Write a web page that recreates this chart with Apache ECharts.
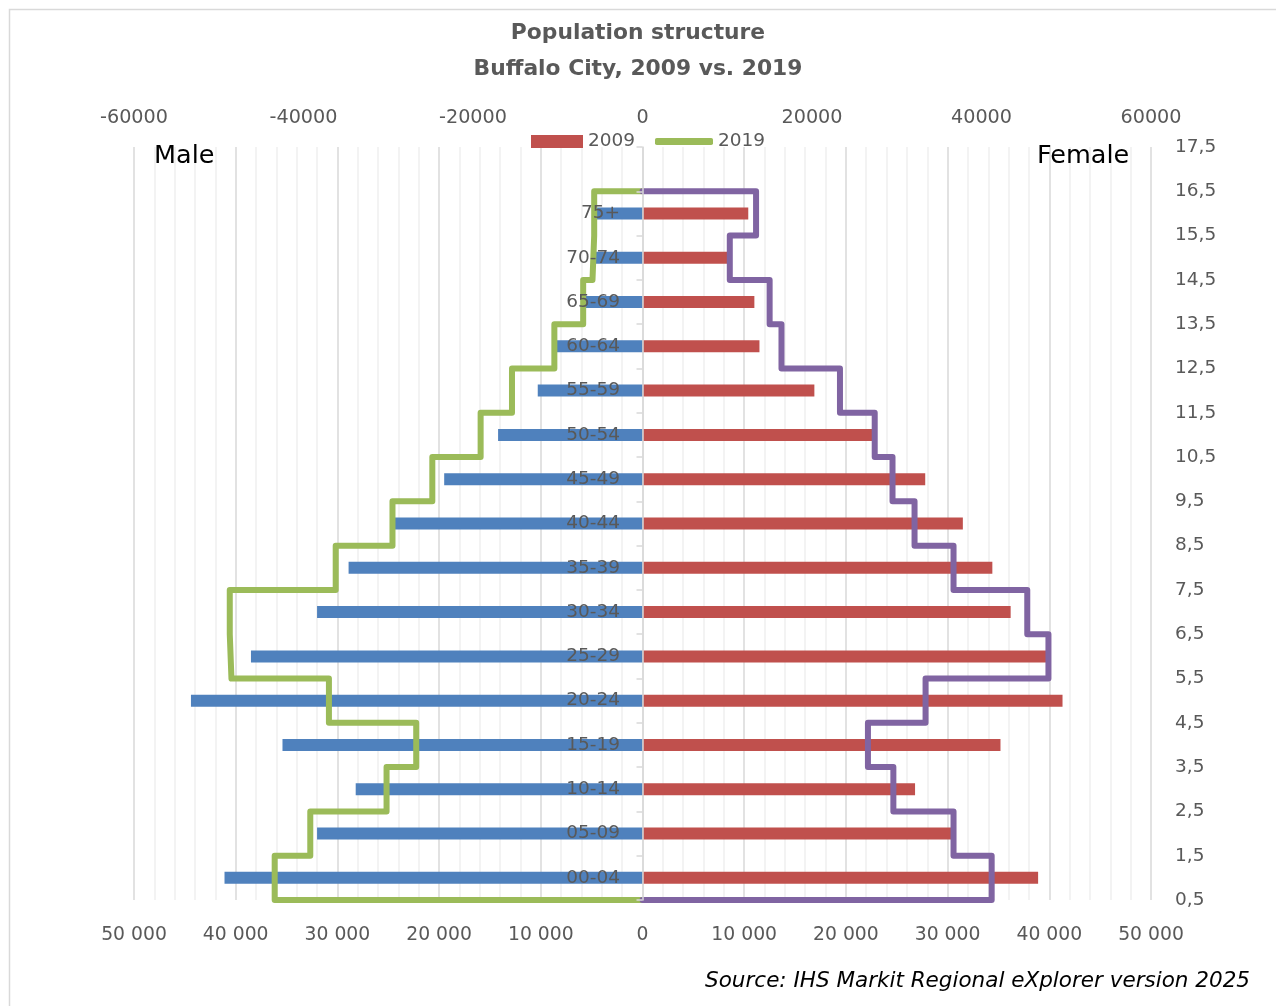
<!DOCTYPE html>
<html>
<head>
<meta charset="utf-8">
<script src="https://cdn.jsdelivr.net/npm/echarts@6/dist/echarts.min.js"></script>
<style>
html,body{margin:0;padding:0;background:#fff;}
#chart{width:1276px;height:1006px;}
</style>
</head>
<body>
<div id="chart"></div>
<script>
// Age groups (bottom to top)
var categories = ['00-04','05-09','10-14','15-19','20-24','25-29','30-34','35-39','40-44','45-49','50-54','55-59','60-64','65-69','70-74','75+'];
// 2009 (bars, bottom axis)
var male2009   = [41100, 32000, 28200, 35400, 44400, 38500, 32000, 28900, 24500, 19500, 14200, 10300, 8500, 5800, 4800, 4700];
var female2009 = [38900, 30400, 26800, 35200, 41300, 39900, 36200, 34400, 31500, 27800, 22600, 16900, 11500, 11000, 8400, 10400];
// 2019 (step lines, top axis)
var male2019   = [43400, 39200, 30200, 26700, 37000, 48500, 48700, 36200, 29500, 24800, 19100, 15400, 10400, 7000, 5900, 5700];
var female2019 = [41200, 36700, 29600, 26600, 33400, 47900, 45400, 36700, 32100, 29500, 27400, 23300, 16400, 15000, 10300, 13400];
// Axis tick settings
var bottomTicks = {min: -50000, max: 50000, interval: 10000};
var topTicks = {min: -60000, max: 60000, interval: 20000};
var rightTicks = {min: 0.5, max: 17.5, interval: 1};

var FONT = 'DejaVu Sans';
var GREY = '#595959';

function stepPoints(vals, sign) {
  var n = vals.length;
  var pts = [[0, n + 0.5]];
  for (var k = n - 1; k >= 0; k--) {
    pts.push([sign * vals[k], k + 1.5]);
    pts.push([sign * vals[k], k + 0.5]);
  }
  pts.push([0, 0.5]);
  return pts;
}

var catAxisData = categories.concat(['']);

var chart = echarts.init(document.getElementById('chart'));
var option = {
  backgroundColor: '#fff',
  animation: false,
  textStyle: {fontFamily: FONT},
  title: {
    text: 'Population structure\nBuffalo City, 2009 vs. 2019',
    left: 'center',
    top: 10,
    textStyle: {fontFamily: FONT, fontWeight: 'bold', fontSize: 21.8, lineHeight: 36, color: GREY}
  },
  legend: [
    {data: ['2009'], left: 526, top: 127, icon: 'rect', itemWidth: 52, itemHeight: 13,
     textStyle: {fontFamily: FONT, fontSize: 18.5, color: GREY}},
    {data: ['2019'], left: 650, top: 127, icon: 'roundRect', itemWidth: 58, itemHeight: 7,
     textStyle: {fontFamily: FONT, fontSize: 18.5, color: GREY}}
  ],
  grid: {left: 134, top: 147, width: 1017, height: 753, containLabel: false},
  xAxis: [
    {
      type: 'value', position: 'bottom',
      min: bottomTicks.min, max: bottomTicks.max, interval: bottomTicks.interval,
      axisLine: {show: false}, axisTick: {show: false},
      axisLabel: {color: GREY, fontSize: 18.8, margin: 26, fontFamily: FONT,
        formatter: function (v) { var a = Math.abs(v); return String(a).replace(/\B(?=(\d{3})+(?!\d))/g, ' '); }},
      splitLine: {show: true, lineStyle: {color: '#d9d9d9', width: 1.5}},
      minorTick: {show: false, splitNumber: 5},
      minorSplitLine: {show: true, lineStyle: {color: '#efefef', width: 1.5}}
    },
    {
      type: 'value', position: 'top',
      min: topTicks.min, max: topTicks.max, interval: topTicks.interval,
      axisLine: {show: false}, axisTick: {show: false}, splitLine: {show: false},
      axisLabel: {color: GREY, fontSize: 19.2, margin: 19, fontFamily: FONT,
        formatter: function (v) { return String(v); }}
    }
  ],
  yAxis: [
    {
      type: 'category', data: catAxisData, position: 'left', z: 5,
      axisLine: {show: true, onZero: true, onZeroAxisIndex: 0, lineStyle: {color: '#d9d9d9', width: 1.5}},
      axisTick: {show: true, length: 6, lineStyle: {color: '#d9d9d9', width: 1.5}},
      axisLabel: {color: GREY, fontSize: 18.5, margin: -486, fontFamily: FONT},
      splitLine: {show: false}
    },
    {
      type: 'value', position: 'right',
      min: rightTicks.min, max: rightTicks.max, interval: rightTicks.interval,
      axisLine: {show: false}, axisTick: {show: false}, splitLine: {show: false},
      axisLabel: {color: GREY, fontSize: 18.5, margin: 24, fontFamily: FONT,
        formatter: function (v) { return v.toFixed(1).replace('.', ','); }}
    }
  ],
  series: [
    {
      name: '2009', type: 'bar', xAxisIndex: 0, yAxisIndex: 0,
      data: female2009, barWidth: 12, barGap: '-100%',
      itemStyle: {color: '#c0504d'}, z: 2
    },
    {
      name: '2009', type: 'bar', xAxisIndex: 0, yAxisIndex: 0,
      data: male2009.map(function (v) { return -v; }), barWidth: 12, barGap: '-100%',
      itemStyle: {color: '#4f81bd'}, z: 2
    },
    {
      name: '2019', type: 'line', xAxisIndex: 1, yAxisIndex: 1,
      data: stepPoints(male2019, -1), symbol: 'none', showSymbol: false, clip: false,
      color: '#9bbb59', itemStyle: {color: '#9bbb59'},
      lineStyle: {color: '#9bbb59', width: 6, join: 'round', cap: 'round'}, z: 3
    },
    {
      name: '2019', type: 'line', xAxisIndex: 1, yAxisIndex: 1,
      data: stepPoints(female2019, 1), symbol: 'none', showSymbol: false, clip: false,
      color: '#8064a2', itemStyle: {color: '#8064a2'},
      lineStyle: {color: '#8064a2', width: 6, join: 'round', cap: 'round'}, z: 4
    }
  ],
  graphic: [
    {type: 'rect', left: 7, top: 7, z: -10, silent: true,
     shape: {width: 1290, height: 1020}, style: {fill: 'none', stroke: '#d9d9d9', lineWidth: 1.5}},
    {type: 'text', left: 154, top: 143, z: 10,
     style: {text: 'Male', fontFamily: FONT, fontSize: 25.5, fill: '#000'}},
    {type: 'text', left: 1037, top: 143, z: 10,
     style: {text: 'Female', fontFamily: FONT, fontSize: 25.5, fill: '#000'}},
    {type: 'text', right: 26, top: 970, z: 10,
     style: {text: 'Source: IHS Markit Regional eXplorer version 2025', fontFamily: FONT, fontStyle: 'italic', fontSize: 21.5, fill: '#000'}}
  ]
};
chart.setOption(option);
</script>
</body>
</html>
